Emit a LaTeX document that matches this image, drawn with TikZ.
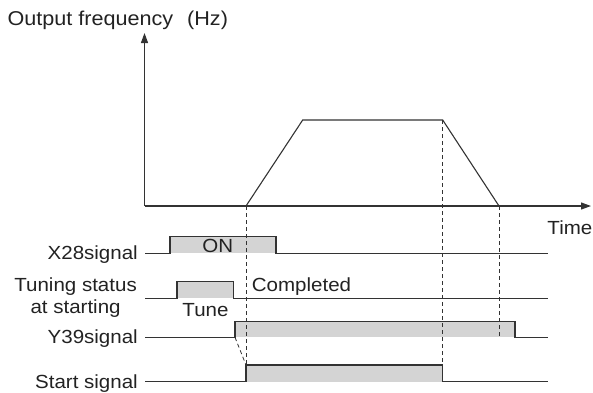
\documentclass[tikz,border=0pt]{standalone}
\usepackage{fontspec}
\setmainfont{Liberation Sans}[FakeStretch=1.08]
\usetikzlibrary{arrows.meta}
\definecolor{ln}{HTML}{333333}
\definecolor{fillg}{HTML}{D4D4D4}
\definecolor{txt}{HTML}{222222}
\begin{document}
\begin{tikzpicture}[x=1pt,y=-1pt,
  sig/.style={draw=ln,line width=1.1pt,line join=miter},
  hi/.style={fill=fillg,draw=none},
  dsh/.style={draw=ln,line width=0.8pt,dash pattern=on 4pt off 3pt},
  ax/.style={draw=ln,line width=1.1pt,-{Triangle[length=10pt,width=7pt]}},
  lbl/.style={font=\fontsize{19}{22}\selectfont,text=txt,inner sep=0pt},
  every node/.style={lbl}]
\useasboundingbox (0,0) rectangle (593,392);
% key coordinates
\coordinate (O) at (144.5,206);
\coordinate (ytip) at (144.5,33);
\coordinate (xtip) at (591,206);
\coordinate (r0) at (246,206);
\coordinate (r1) at (302.7,120);
\coordinate (r2) at (442.7,120);
\coordinate (r3) at (499,206);
% title
\node[anchor=base west] (title) at (7.3,25) {\fontsize{20}{22}\selectfont Output frequency\hspace{14pt}(Hz)};
\node[anchor=base east] (time) at (592.5,234) {Time};
% gray fills
\fill[hi] (170,236.7) rectangle (276,253.3);
\fill[hi] (177,281.7) rectangle (233.3,298.3);
\fill[hi] (235,321.7) rectangle (515,337.3);
\fill[hi] (246,365) rectangle (442.7,381.7);
% dashed guide lines
\draw[dsh] (r0) -- (246,365);
\draw[dsh] (r2) -- (442.7,365);
\draw[dsh] (r3) -- (499,337.3);
\draw[dsh] (235,337.3) -- (246,365);
% axes
\draw[ax] (O) -- (ytip);
\draw[ax] (O) -- (xtip);
% frequency profile
\draw[sig] (r0) -- (r1) -- (r2) -- (r3);
% signals
\draw[sig] (145,253.3) -- (170,253.3) -- (170,236.7) -- (276,236.7) -- (276,253.3) -- (548,253.3);
\draw[sig] (145,298.3) -- (177,298.3) -- (177,281.7) -- (233.3,281.7) -- (233.3,298.3) -- (548,298.3);
\draw[sig] (145,337.3) -- (235,337.3) -- (235,321.7) -- (515,321.7) -- (515,337.3) -- (548,337.3);
\draw[sig] (145,381.7) -- (246,381.7) -- (246,365) -- (442.7,365) -- (442.7,381.7) -- (548,381.7);
% labels
\node[anchor=base east] (lx28) at (138,259.5) {X28signal};
\node[anchor=east,align=center] (ltune) at (137,298) {Tuning status\\at starting};
\node[anchor=base east] (ly39) at (138,343.5) {Y39signal};
\node[anchor=base east] (lstart) at (138,388) {Start signal};
\node[anchor=base] (on) at (217.7,252.5) {ON};
\node[anchor=base] (tune) at (205.5,316) {Tune};
\node[anchor=base west] (comp) at (251.7,291) {Completed};
\end{tikzpicture}
\end{document}
